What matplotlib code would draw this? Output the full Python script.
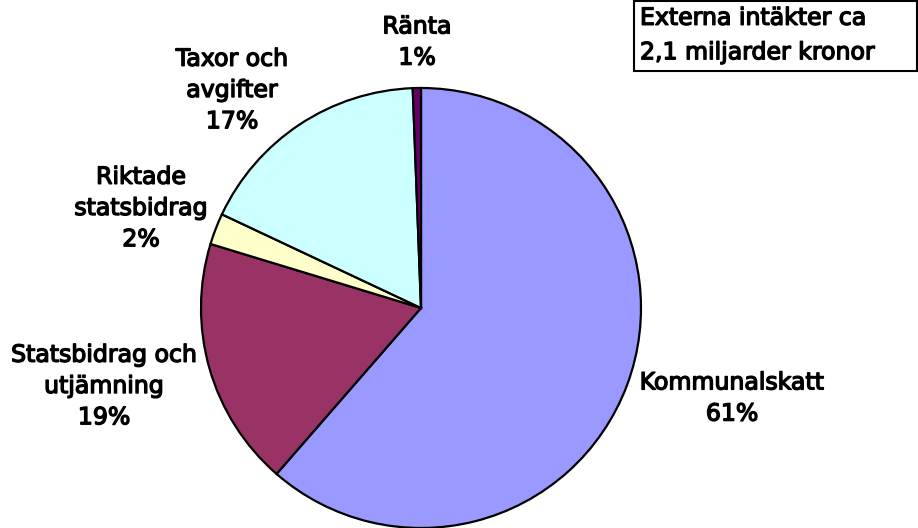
import matplotlib
matplotlib.use("Agg")
import matplotlib.pyplot as plt
import matplotlib.patheffects as pe

categories = ["Kommunalskatt", "Statsbidrag och\nutjämning", "Riktade\nstatsbidrag",
              "Taxor och\navgifter", "Ränta"]
values = [61.4, 18.3, 2.3, 17.4, 0.6]
pct_labels = ["61%", "19%", "2%", "17%", "1%"]
colors = ["#9999FF", "#993366", "#FFFFCC", "#CCFFFF", "#660066"]
title_text = "Externa intäkter ca\n2,1 miljarder kronor"

W, H = 918, 528
fig = plt.figure(figsize=(W / 100, H / 100), dpi=100)
fig.patch.set_facecolor("white")

# pie axes: centre (421, 308) px from top-left, radius 220 px
cx, cy, r = 421, 308, 220
ax = fig.add_axes([(cx - r) / W, (H - cy - r) / H, 2 * r / W, 2 * r / H])
ax.pie(values, colors=colors, startangle=90, counterclock=False,
       wedgeprops=dict(edgecolor="black", linewidth=1.6), radius=1.0)
ax.set_xlim(-1.0, 1.0)
ax.set_ylim(-1.0, 1.0)
ax.set_aspect("equal")
ax.axis("off")

# label layout (pixel centres)
label_pos = [(732, 398), (104, 386), (141, 208), (232, 90), (417, 42)]
fx = dict(family="DejaVu Sans", fontsize=17, color="black",
          path_effects=[pe.withStroke(linewidth=1.0, foreground="black")])
for cat, pct, (px, py) in zip(categories, pct_labels, label_pos):
    fig.text(px / W, 1 - py / H, f"{cat}\n{pct}", ha="center", va="center",
             multialignment="center", linespacing=1.38, **fx)

# boxed title
box = plt.Rectangle((634 / W, 1 - 71 / H), (W - 635) / W, 71 / H - 0.002,
                    transform=fig.transFigure, fill=False, edgecolor="black",
                    linewidth=1.5)
fig.add_artist(box)
fig.text(640 / W, 1 - 35 / H, title_text, ha="left", va="center",
         linespacing=1.55, **fx)

fig.savefig("out.png", dpi=100, facecolor="white")
